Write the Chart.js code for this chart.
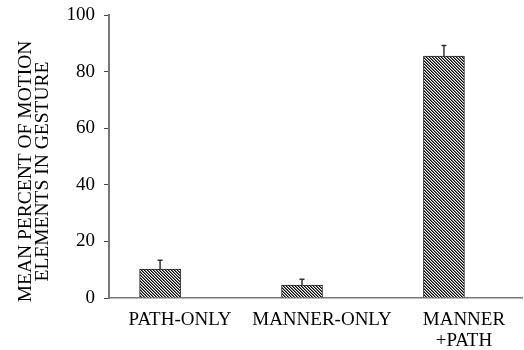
<!DOCTYPE html>
<html>
<head>
<meta charset="utf-8">
<script src="https://cdn.jsdelivr.net/npm/chart.js@4/dist/chart.umd.min.js"></script>
<style>
  html, body { margin: 0; padding: 0; background: #fff; }
  #wrap { width: 524px; height: 350px; }
</style>
</head>
<body>
<div id="wrap"><canvas id="chart"></canvas></div>
<script>
// Values
const categories = ['PATH-ONLY', 'MANNER-ONLY', ['MANNER', '+PATH']]
const means = [10.2, 4.6, 85.5]
const errors = [3.1, 2.0, 3.7] // upper error only
const yTicks = [0, 20, 40, 60, 80, 100]
const yTitle = ['MEAN PERCENT OF MOTION', 'ELEMENTS IN GESTURE']

const FONT = '"Liberation Serif", "Times New Roman", serif'

// Black and white diagonal hatch, like the printed figure
function makeHatch() {
    const tile = document.createElement('canvas')
    tile.width = 3
    tile.height = 3
    const t = tile.getContext('2d')
    t.fillStyle = '#fff'
    t.fillRect(0, 0, 3, 3)
    for (let y = 0; y < 3; y++) {
        for (let x = 0; x < 3; x++) {
            const k = ((x - y) % 3 + 3) % 3
            if (k === 0) { t.fillStyle = '#000'; t.fillRect(x, y, 1, 1) }
            if (k === 1) { t.fillStyle = '#777'; t.fillRect(x, y, 1, 1) }
        }
    }
    return document.getElementById('chart').getContext('2d').createPattern(tile, 'repeat')
}

const errorBars = {
    id: 'errorBars',
    afterDatasetsDraw(chart) {
        const { ctx, scales: { y } } = chart
        const meta = chart.getDatasetMeta(0)
        ctx.save()
        ctx.strokeStyle = '#333'
        ctx.lineWidth = 1.5
        meta.data.forEach((bar, i) => {
            const top = y.getPixelForValue(means[i] + errors[i])
            ctx.beginPath()
            ctx.moveTo(bar.x, bar.y)
            ctx.lineTo(bar.x, top)
            ctx.moveTo(bar.x - 2.5, top)
            ctx.lineTo(bar.x + 2.5, top)
            ctx.stroke()
        })
        ctx.restore()
    }
}

const sideTitle = {
    id: 'sideTitle',
    afterDraw(chart) {
        const { ctx } = chart
        const cy = 171.5
        const xs = [31, 48]
        ctx.save()
        ctx.fillStyle = '#000'
        ctx.font = '19.5px ' + FONT
        ctx.textAlign = 'center'
        ctx.textBaseline = 'alphabetic'
        yTitle.forEach((line, i) => {
            ctx.save()
            ctx.translate(xs[i], cy)
            ctx.rotate(-Math.PI / 2)
            ctx.fillText(line, 0, 0)
            ctx.restore()
        })
        ctx.restore()
    }
}

new Chart(document.getElementById('chart'), {
    type: 'bar',
    data: {
        datasets: [{
            data: means.map((v, i) => ({ x: i + 1, y: v })),
            backgroundColor: makeHatch(),
            borderColor: '#222',
            borderWidth: 1,
            borderSkipped: 'bottom',
            barThickness: 41
        }]
    },
    options: {
        responsive: true,
        maintainAspectRatio: false,
        animation: false,
        layout: { padding: { left: 0, top: 15, right: 2, bottom: 0 } },
        plugins: {
            legend: { display: false },
            tooltip: { enabled: false }
        },
        scales: {
            x: {
                type: 'linear',
                offset: false,
                min: 0.64,
                max: 3.55,
                grid: { display: false, drawTicks: false },
                border: { display: true, color: '#777', width: 1.5 },
                afterBuildTicks: (scale) => { scale.ticks = categories.map((_, i) => ({ value: i + 1 })) },
                afterFit: (scale) => { scale.height = 52 },
                ticks: {
                    autoSkip: false,
                    maxRotation: 0,
                    labelOffset: 20,
                    padding: 12,
                    color: '#000',
                    font: { family: FONT, size: 19, lineHeight: 1.08 },
                    callback: (v) => categories[v - 1]
                }
            },
            y: {
                min: 0,
                max: 100,
                afterBuildTicks: (scale) => { scale.ticks = yTicks.map(v => ({ value: v })) },
                afterFit: (scale) => {
                    scale.width = 109
                    scale.paddingTop = 0
                    scale.paddingBottom = 0
                },
                grid: { drawOnChartArea: false, tickLength: 5, color: '#444' },
                border: { display: true, color: '#777', width: 2 },
                ticks: {
                    padding: 9,
                    color: '#000',
                    font: { family: FONT, size: 19 }
                }
            }
        }
    },
    plugins: [errorBars, sideTitle]
})
</script>
</body>
</html>
